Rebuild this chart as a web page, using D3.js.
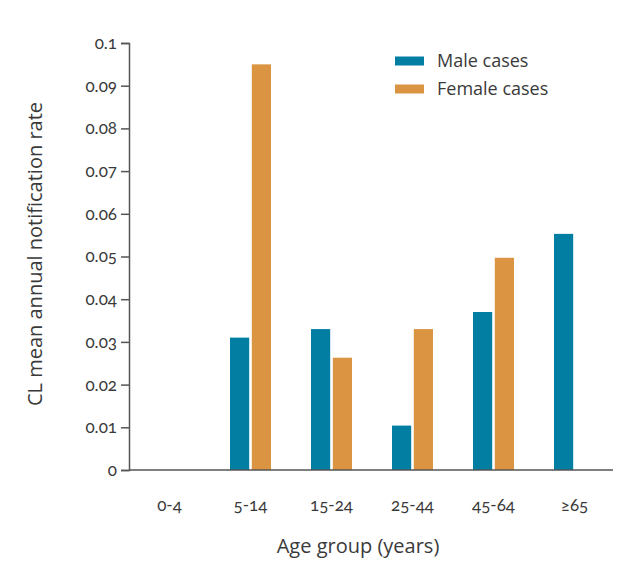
<!DOCTYPE html>
<html>
<head>
<meta charset="utf-8">
<script src="https://cdn.jsdelivr.net/npm/d3@7"></script>
<style>
  body { margin: 0; background: #fff; }
  svg text { font-family: "Open Sans", Lato, sans-serif; fill: #3a3a3a; }
  svg .num { font-family: Lato, "Open Sans", sans-serif; font-variant-numeric: oldstyle-nums; }
</style>
</head>
<body>
<svg id="chart" width="632" height="571"></svg>
<script>
const categories = ["0-4", "5-14", "15-24", "25-44", "45-64", "≥65"];
const maleValues = [0, 0.031, 0.033, 0.0104, 0.037, 0.0553];
const femaleValues = [0, 0.095, 0.0263, 0.033, 0.0497, 0];
const seriesNames = ["Male cases", "Female cases"];
const yTicks = [0, 0.01, 0.02, 0.03, 0.04, 0.05, 0.06, 0.07, 0.08, 0.09, 0.1];
const colors = ["#027ea3", "#da9442"];

const svg = d3.select("#chart");
const mLeft = 129, mRight = 615, mTop = 43, mBottom = 470;

const x = d3.scaleBand().domain(categories).range([mLeft, mRight]);
const inner = d3.scaleBand().domain([0, 1]).range([0, 41]).paddingInner(0.12);
const y = d3.scaleLinear().domain([0, 0.1]).range([mBottom, mTop]);

// bars
const data = categories.map((c, i) => ({ c, v: [maleValues[i], femaleValues[i]] }));
const g = svg.append("g");
data.forEach(d => {
  d.v.forEach((v, s) => {
    if (v <= 0) return;
    g.append("rect")
      .attr("x", x(d.c) + x.bandwidth() / 2 - 20.5 + inner(s))
      .attr("width", inner.bandwidth())
      .attr("y", y(v))
      .attr("height", y(0) - y(v))
      .attr("fill", colors[s]);
  });
});

// y axis
const yAxis = svg.append("g").attr("transform", `translate(${mLeft},0)`)
  .call(d3.axisLeft(y).tickValues(yTicks).tickFormat(d => d === 0 ? "0" : String(+d.toFixed(2))).tickSize(8).tickPadding(4));
yAxis.select(".domain").attr("stroke", "#555").attr("stroke-width", 1.5);
yAxis.selectAll(".tick line").attr("stroke", "#555").attr("stroke-width", 1.5);
yAxis.selectAll(".tick text").attr("class", "num").style("font-size", "17px").attr("fill", "#3a3a3a");

// x axis
const xAxis = svg.append("g").attr("transform", `translate(0,${mBottom})`)
  .call(d3.axisBottom(x).tickSize(0).tickPadding(29));
xAxis.select(".domain").attr("stroke", "#555").attr("stroke-width", 1.5).attr("d", `M${mLeft},0H${mRight - 2}`);
xAxis.selectAll(".tick text").attr("class", "num").style("font-size", "17px").attr("fill", "#3a3a3a");

// axis titles
svg.append("text")
  .attr("transform", "translate(42,254) rotate(-90)")
  .attr("text-anchor", "middle")
  .style("font-size", "20px")
  .text("CL mean annual notification rate");
svg.append("text")
  .attr("x", 358).attr("y", 553)
  .attr("text-anchor", "middle")
  .style("font-size", "20px")
  .text("Age group (years)");

// legend
seriesNames.forEach((n, i) => {
  const ly = 61 + i * 28;
  svg.append("rect").attr("x", 395).attr("y", ly - 4.5).attr("width", 29).attr("height", 9).attr("fill", colors[i]);
  svg.append("text").attr("x", 437).attr("y", ly).attr("dy", "0.35em").style("font-size", "18px").text(n);
});
</script>
</body>
</html>
